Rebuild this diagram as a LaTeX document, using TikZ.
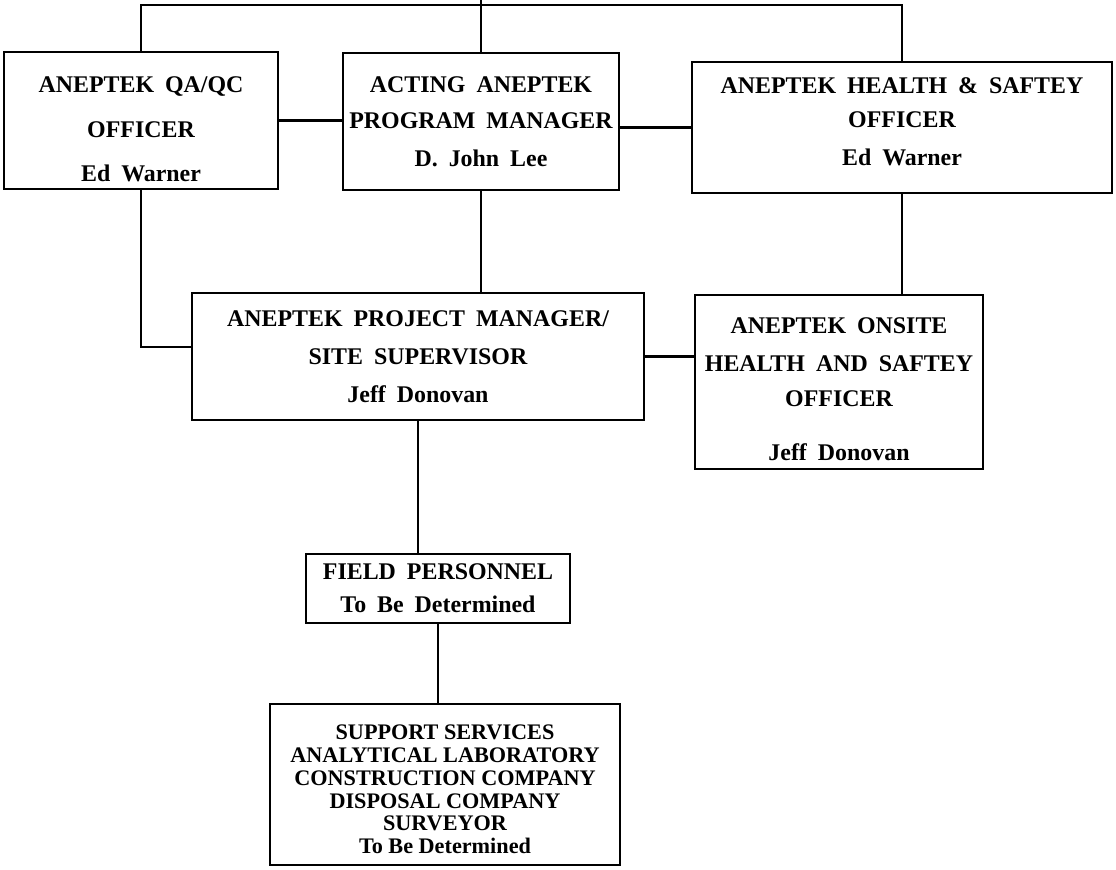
\documentclass[tikz,border=0pt]{standalone}
\usepackage{fontspec}
\usetikzlibrary{positioning,calc}
\newfontfamily\orgfont{Liberation Serif}
\newfontfamily\svcfont{Liberation Serif}
\newcommand\orgspacing{\spaceskip 0.46em\relax}
\newcommand\padtop[1]{\rule{0pt}{#1}}
\newcommand\padbot[1]{\rule[-#1]{0pt}{#1}}
\tikzset{obox/.style={rectangle, draw=black, line width=1.7pt, inner sep=0pt, align=center, font={\orgfont\bfseries\fontsize{17}{27}\selectfont\orgspacing}}}
\tikzset{svcbox/.style={obox, font={\svcfont\bfseries\fontsize{15.8}{16.2}\selectfont}}}
\tikzset{oline/.style={draw=black, line width=1.7pt}}

\begin{document}
\begin{tikzpicture}
  \useasboundingbox (0,0) rectangle (27.9,-21.725);

  \node[obox, minimum width=6.85cm, minimum height=3.425cm] (qaqc) at (3.525,-3.0125) {\padtop{0.85cm}ANEPTEK QA/QC\\[0.17cm] OFFICER\\[0.15cm] Ed Warner};
  \node[obox, minimum width=6.9cm, minimum height=3.425cm] (acting) at (12.025,-3.0375) {ACTING ANEPTEK\\[-0.05cm] PROGRAM MANAGER\\ D. John Lee};
  \node[obox, minimum width=10.5cm, minimum height=3.275cm] (hsofficer) at (22.55,-3.1875) {ANEPTEK HEALTH \& SAFTEY\\[-0.1cm] OFFICER\\ Ed Warner\padbot{0.3cm}};

  \node[obox, minimum width=11.3cm, minimum height=3.175cm] (projmgr) at (10.45,-8.9125) {ANEPTEK PROJECT MANAGER/\\ SITE SUPERVISOR\\ Jeff Donovan};
  \node[obox, minimum width=7.2cm, minimum height=4.35cm] (onsite) at (20.975,-9.55) {\padtop{0.75cm}ANEPTEK ONSITE\\ HEALTH AND SAFTEY\\[-0.08cm] OFFICER\\[0.4cm] Jeff Donovan};

  \node[obox, minimum width=6.6cm, minimum height=1.725cm] (field) at (10.95,-14.7125) {FIELD PERSONNEL\\[-0.13cm] To Be Determined};
  \node[svcbox, minimum width=8.75cm, minimum height=4.025cm] (support) at (11.125,-19.6125) {\padtop{0.62cm}SUPPORT SERVICES\\ ANALYTICAL LABORATORY\\ CONSTRUCTION COMPANY\\ DISPOSAL COMPANY\\ SURVEYOR\\ To Be Determined};

  % top bar
  \coordinate (topbar) at (0,-0.125);
  \coordinate (topend) at (12.025,0);
  \draw[oline] (qaqc.north) -- (qaqc.north |- topbar) -- (hsofficer.north |- topbar) -- (hsofficer.north);
  \draw[oline] (topend) -- (acting.north);

  \draw[oline] (qaqc.east) -- (qaqc.east -| acting.west);
  \draw[oline] (hsofficer.west) -- (hsofficer.west -| acting.east);

  \draw[oline] (qaqc.south) |- ([yshift=0.24cm]projmgr.west);
  \draw[oline] (acting.south) -- (acting.south |- projmgr.north);
  \draw[oline] (hsofficer.south) -- (hsofficer.south |- onsite.north);
  \draw[oline] (projmgr.east) -- (projmgr.east -| onsite.west);

  \draw[oline] (projmgr.south) -- (projmgr.south |- field.north);
  \draw[oline] (field.south) -- (field.south |- support.north);
\end{tikzpicture}
\end{document}
